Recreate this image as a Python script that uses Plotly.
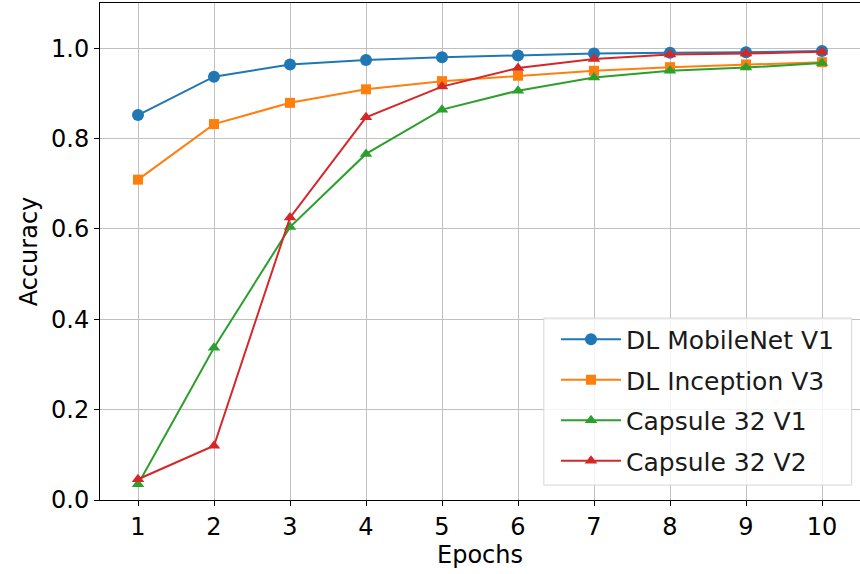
import plotly.graph_objects as go

epochs = [1, 2, 3, 4, 5, 6, 7, 8, 9, 10]
mobilenet_v1 = [0.852, 0.937, 0.964, 0.974, 0.980, 0.984, 0.988, 0.990, 0.991, 0.994]
inception_v3 = [0.709, 0.832, 0.879, 0.909, 0.927, 0.939, 0.950, 0.958, 0.964, 0.969]
capsule_v1 = [0.035, 0.337, 0.604, 0.766, 0.864, 0.906, 0.935, 0.950, 0.957, 0.967]
capsule_v2 = [0.046, 0.120, 0.625, 0.847, 0.915, 0.956, 0.976, 0.986, 0.988, 0.992]

series = [
    ("DL MobileNet V1", mobilenet_v1, "#1f77b4", "circle", 12),
    ("DL Inception V3", inception_v3, "#ff7f0e", "square", 10),
    ("Capsule 32 V1", capsule_v1, "#2ca02c", "triangle-up", 11),
    ("Capsule 32 V2", capsule_v2, "#d62728", "triangle-up", 11),
]

fig = go.Figure()
for i, (name, vals, color, sym, size) in enumerate(series):
    fig.add_trace(go.Scatter(
        x=epochs, y=vals, name=name, mode="lines+markers",
        line=dict(color=color, width=2),
        marker=dict(symbol=sym, size=size, color=color),
        legendgroup=f"g{i}",
    ))

# legend frame (matplotlib-like), in paper coordinates
fig.add_shape(
    type="rect", xref="paper", yref="paper",
    x0=0.584, x1=0.989, y0=0.030, y1=0.366,
    line=dict(color="#d6d6d6", width=1),
    fillcolor="rgba(255,255,255,0.8)", layer="above",
)

font = "DejaVu Sans, Arial, sans-serif"
fig.update_layout(
    width=860, height=574,
    margin=dict(l=100, r=0, t=3, b=74),
    paper_bgcolor="white", plot_bgcolor="white",
    font=dict(family=font, size=24, color="black"),
    showlegend=True,
    legend=dict(
        x=0.600, y=0.369, xanchor="left", yanchor="top",
        bgcolor="rgba(0,0,0,0)", borderwidth=0,
        font=dict(size=25, color="#1a1a1a"),
        tracegroupgap=5, itemwidth=60,
    ),
    xaxis=dict(
        range=[0.5, 10.5], tickmode="array", tickvals=epochs,
        ticktext=[str(e) for e in epochs],
        showgrid=True, gridcolor="#c0c0c0", gridwidth=1,
        showline=True, linecolor="black", linewidth=1, mirror=True,
        ticks="outside", ticklen=5, tickcolor="black",
        title=dict(text="Epochs", font=dict(size=24), standoff=4),
        zeroline=False,
    ),
    yaxis=dict(
        range=[0, 1.1], tickmode="array",
        tickvals=[0.0, 0.2, 0.4, 0.6, 0.8, 1.0],
        ticktext=["0.0", "0.2", "0.4", "0.6", "0.8", "1.0"],
        showgrid=True, gridcolor="#c0c0c0", gridwidth=1,
        showline=True, linecolor="black", linewidth=1, mirror=True,
        ticks="outside", ticklen=5, tickcolor="black",
        title=dict(text="Accuracy", font=dict(size=24), standoff=6),
        zeroline=False,
    ),
)

fig.write_html("out.html", config={"displayModeBar": False},
               post_script="document.body.style.margin='0';")
